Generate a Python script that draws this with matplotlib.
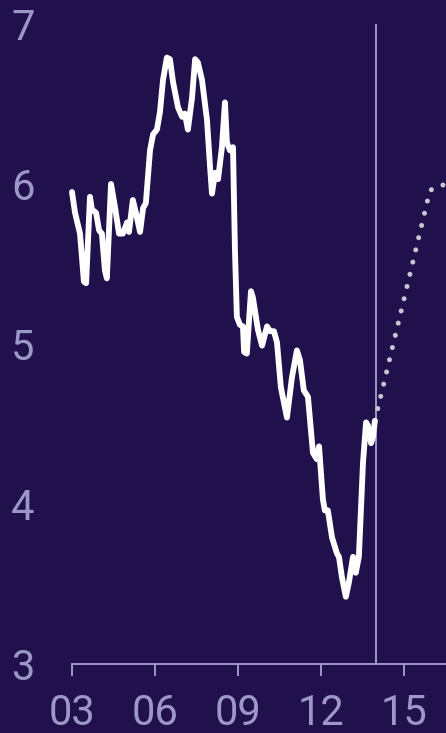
import matplotlib.pyplot as plt

# unemployment-style series, decimal years
years = [2003.00, 2003.11, 2003.29, 2003.43, 2003.51, 2003.65, 2003.72, 2003.87, 2003.98,
         2004.08, 2004.19, 2004.26, 2004.41, 2004.55, 2004.70, 2004.84, 2004.99, 2005.06,
         2005.20, 2005.31, 2005.46, 2005.57, 2005.67, 2005.82, 2005.93, 2006.07, 2006.18,
         2006.29, 2006.43, 2006.54, 2006.65, 2006.83, 2006.98, 2007.08, 2007.19, 2007.34,
         2007.45, 2007.55, 2007.70, 2007.88, 2007.99, 2008.06, 2008.17, 2008.28, 2008.42,
         2008.53, 2008.60, 2008.71, 2008.82, 2008.89, 2008.96, 2009.07, 2009.18, 2009.22,
         2009.32, 2009.47, 2009.54, 2009.72, 2009.87, 2010.05, 2010.16, 2010.30, 2010.41,
         2010.55, 2010.77, 2010.95, 2011.13, 2011.24, 2011.38, 2011.53, 2011.71, 2011.85,
         2011.93, 2012.07, 2012.14, 2012.25, 2012.40, 2012.58, 2012.65, 2012.76, 2012.90,
         2013.01, 2013.16, 2013.26, 2013.37, 2013.52, 2013.63, 2013.70, 2013.81, 2013.88,
         2013.95]
values = [5.95, 5.82, 5.69, 5.39, 5.38, 5.92, 5.84, 5.82, 5.71,
          5.69, 5.46, 5.41, 6.00, 5.86, 5.69, 5.69, 5.76, 5.70,
          5.90, 5.82, 5.70, 5.85, 5.88, 6.21, 6.31, 6.34, 6.45,
          6.65, 6.79, 6.78, 6.64, 6.48, 6.42, 6.44, 6.34, 6.54,
          6.78, 6.76, 6.65, 6.40, 6.11, 5.94, 6.07, 6.03, 6.23,
          6.51, 6.26, 6.21, 6.23, 5.59, 5.17, 5.12, 5.11, 4.95,
          4.94, 5.33, 5.29, 5.09, 4.99, 5.11, 5.08, 5.08, 5.01,
          4.73, 4.54, 4.79, 4.96, 4.90, 4.71, 4.67, 4.32, 4.28,
          4.36, 4.03, 3.96, 3.96, 3.79, 3.69, 3.67, 3.54, 3.42,
          3.51, 3.67, 3.57, 3.67, 4.26, 4.51, 4.49, 4.38, 4.42,
          4.52]

# projection
proj_years = [2013.95, 2015.94, 2016.30, 2016.60]
proj_values = [4.52, 5.96, 5.99, 6.00]

xticks = [2003, 2006, 2009, 2012, 2015]
xlabels = ["03", "06", "09", "12", "15"]
yticks = [3, 4, 5, 6, 7]

bg = "#20114d"
lav = "#9d97c8"

plt.rcParams["font.family"] = ["Roboto", "DejaVu Sans"]

fig = plt.figure(figsize=(4.46, 7.33), dpi=100, facecolor=bg)
ax = fig.add_axes([72 / 446, 69 / 733, 1 - 72 / 446, 640 / 733])
ax.set_facecolor(bg)

ax.axvline(2014, color=lav, lw=1.4, zorder=1)
ax.plot(proj_years, proj_values, color="#c9c6d3", lw=3.6,
        linestyle=(0, (0.01, 2.5)), dash_capstyle="round", zorder=2, clip_on=False)
ax.plot(years, values, color="white", lw=4.2, solid_joinstyle="round",
        solid_capstyle="round", zorder=3, clip_on=False)

ax.set_xlim(2003, 2016.52)
ax.set_ylim(3, 7)

for s in ["top", "right", "left"]:
    ax.spines[s].set_visible(False)
ax.spines["bottom"].set_color(lav)
ax.spines["bottom"].set_linewidth(1.4)

ax.set_xticks(xticks)
ax.set_xticklabels(xlabels)
ax.set_yticks(yticks)
ax.tick_params(axis="x", colors=lav, length=8.6, width=1.4, pad=12, labelsize=30)
ax.tick_params(axis="y", colors=lav, length=0, pad=27, labelsize=30)

fig.savefig("out.png", dpi=100, facecolor=bg)
